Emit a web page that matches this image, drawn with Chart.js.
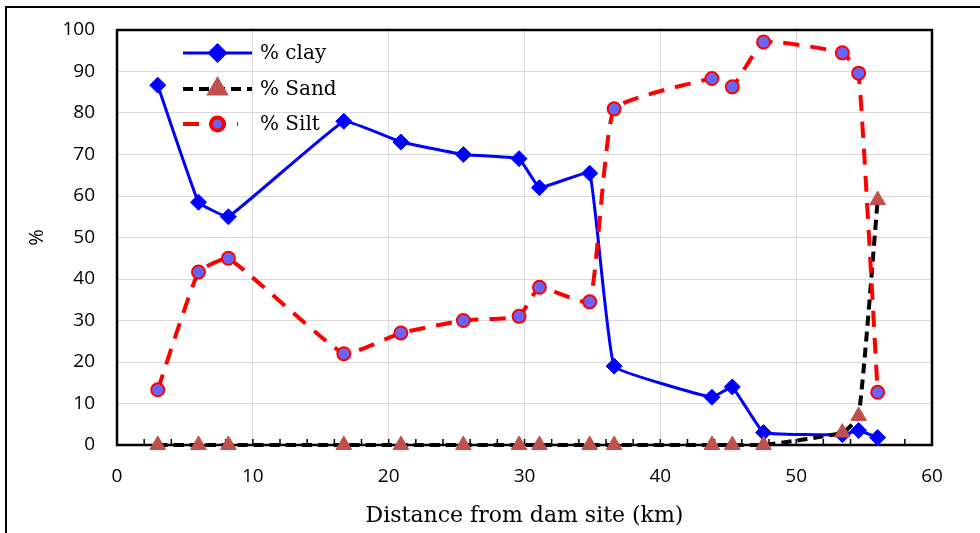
<!DOCTYPE html>
<html>
<head>
<meta charset="utf-8">
<script src="https://cdn.jsdelivr.net/npm/chart.js@4"></script>
<style>
  html, body { margin: 0; padding: 0; background: #fff; overflow: hidden; }
  #wrap { position: relative; width: 980px; height: 533px; }
</style>
</head>
<body>
<div id="wrap"><canvas id="chart" width="980" height="533"></canvas></div>
<script>
const distance = [3, 6, 8.2, 16.7, 20.9, 25.5, 29.6, 31.1, 34.8, 36.6, 43.8, 45.3, 47.6, 53.4, 54.6, 56];
const clay = [86.7, 58.5, 55, 78, 73, 70, 69, 62, 65.5, 19, 11.5, 14, 3, 2.5, 3.5, 1.8];
const sand = [0, 0, 0, 0, 0, 0, 0, 0, 0, 0, 0, 0, 0, 3, 7, 59];
const silt = [13.3, 41.7, 45, 22, 27, 30, 31, 38, 34.5, 81, 88.3, 86.3, 97.1, 94.5, 89.6, 12.7];
const xTicks = [0, 10, 20, 30, 40, 50, 60];
const yTicks = [0, 10, 20, 30, 40, 50, 60, 70, 80, 90, 100];

const toPoints = vals => vals.map((v, i) => ({ x: distance[i], y: v }));
const tickFont = '"Open Sans", "Liberation Sans", sans-serif';

// outer frame, plot border and small x ticks (every 2 km)
const framePlugin = {
    id: 'frame',
    beforeDraw(chart) {
        const ctx = chart.ctx;
        ctx.save();
        ctx.strokeStyle = '#000';
        ctx.lineWidth = 2;
        ctx.strokeRect(6, 7, 2000, 2000);
        ctx.restore();
    },
    beforeDatasetsDraw(chart) {
        const { ctx, chartArea: a, scales } = chart;
        ctx.save();
        ctx.strokeStyle = '#000';
        ctx.lineWidth = 2.5;
        ctx.strokeRect(a.left, a.top, a.right - a.left, a.bottom - a.top);
        ctx.lineWidth = 1.5;
        for (let v = 0; v <= 60; v += 2) {
            const px = scales.x.getPixelForValue(v);
            ctx.beginPath();
            ctx.moveTo(px, a.bottom);
            ctx.lineTo(px, a.bottom - 6);
            ctx.stroke();
        }
        ctx.restore();
    }
};

// legend drawn inside the plot, line + marker like the original
const legendPlugin = {
    id: 'innerLegend',
    afterDraw(chart) {
        const { ctx, chartArea: a } = chart;
        const x0 = a.left + 66, x1 = a.left + 135;
        const rows = [a.top + 23, a.top + 59, a.top + 94];
        ctx.save();
        chart.data.datasets.forEach((ds, i) => {
            const y = rows[i];
            ctx.strokeStyle = ds.borderColor;
            ctx.lineWidth = ds.borderWidth;
            ctx.setLineDash(ds.borderDash || []);
            ctx.beginPath();
            ctx.moveTo(x0, y);
            ctx.lineTo(i === 2 ? x1 - 14 : x1, y);
            ctx.stroke();
            ctx.setLineDash([]);
            ctx.fillStyle = ds.pointBackgroundColor;
            ctx.strokeStyle = ds.pointBorderColor;
            Chart.helpers.drawPoint(ctx, {
                pointStyle: ds.pointStyle,
                radius: ds.pointRadius,
                rotation: 0,
                borderWidth: ds.pointBorderWidth
            }, (x0 + x1) / 2, y);
            ctx.fillStyle = '#000';
            ctx.font = '20px "DejaVu Serif"';
            ctx.textBaseline = 'middle';
            ctx.fillText(ds.label, x1 + 8, y + 1);
        });
        ctx.restore();
    }
};

function draw() {
    new Chart(document.getElementById('chart').getContext('2d'), {
        type: 'line',
        data: {
            datasets: [
                {
                    label: '% clay',
                    data: toPoints(clay),
                    borderColor: '#0000FF',
                    borderWidth: 3,
                    pointStyle: 'rectRot',
                    pointRadius: 8,
                    pointBackgroundColor: '#0000FF',
                    pointBorderColor: '#0000FF',
                    pointBorderWidth: 1,
                    tension: 0.08,
                    order: 2
                },
                {
                    label: '% Sand',
                    data: toPoints(sand),
                    borderColor: '#000000',
                    borderWidth: 4,
                    borderDash: [10, 6],
                    pointStyle: 'triangle',
                    pointRadius: 9,
                    pointBackgroundColor: '#C0504D',
                    pointBorderColor: '#C0504D',
                    pointBorderWidth: 1,
                    tension: 0.15,
                    order: 1
                },
                {
                    label: '% Silt',
                    data: toPoints(silt),
                    borderColor: '#FF0000',
                    borderWidth: 4,
                    borderDash: [16, 11],
                    pointStyle: 'circle',
                    pointRadius: 6.5,
                    pointBackgroundColor: '#6666FF',
                    pointBorderColor: '#FF0000',
                    pointBorderWidth: 2,
                    tension: 0.12,
                    order: 0
                }
            ]
        },
        options: {
            responsive: false,
            animation: false,
            clip: false,
            layout: { padding: { top: 30, right: 48, left: 0, bottom: 0 } },
            plugins: {
                legend: { display: false },
                tooltip: { enabled: false }
            },
            scales: {
                x: {
                    type: 'linear',
                    min: 0,
                    max: 60,
                    afterFit: s => { s.height = 88; s.paddingLeft = 0; s.paddingRight = 0; },
                    afterBuildTicks: s => { s.ticks = xTicks.map(v => ({ value: v })); },
                    grid: { color: '#d9d9d9', lineWidth: 1, drawTicks: false },
                    border: { display: false },
                    ticks: { padding: 20, color: '#000', font: { family: tickFont, size: 19 } },
                    title: {
                        display: true,
                        text: 'Distance from dam site (km)',
                        color: '#000',
                        font: { family: 'DejaVu Serif', size: 22 },
                        padding: { top: 0, bottom: 4 }
                    }
                },
                y: {
                    min: 0,
                    max: 100,
                    afterFit: s => { s.width = 117; s.paddingTop = 0; s.paddingBottom = 0; },
                    afterBuildTicks: s => { s.ticks = yTicks.map(v => ({ value: v })); },
                    grid: { color: '#d9d9d9', lineWidth: 1, drawTicks: false },
                    border: { display: false },
                    ticks: { padding: 22, color: '#000', font: { family: tickFont, size: 19 } },
                    title: {
                        display: true,
                        text: '%',
                        color: '#000',
                        font: { family: tickFont, size: 20 },
                        padding: { top: 25, bottom: 0 }
                    }
                }
            }
        },
        plugins: [framePlugin, legendPlugin]
    });
}

Promise.all([
    document.fonts.load('19px "Open Sans"'),
    document.fonts.load('20px "DejaVu Serif"')
]).then(draw, draw);
</script>
</body>
</html>
